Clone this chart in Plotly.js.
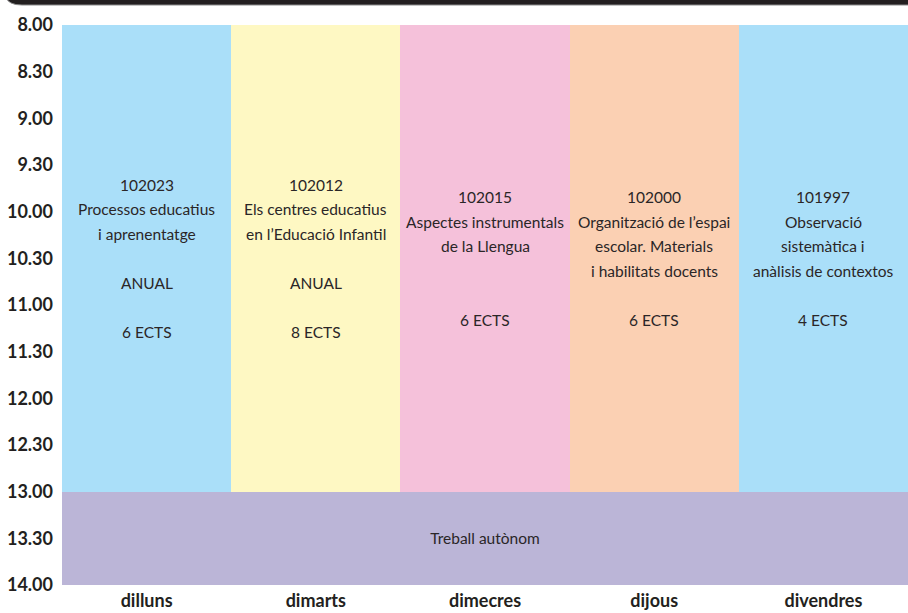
<!DOCTYPE html>
<html>
<head>
<meta charset="utf-8">
<script src="https://cdn.plot.ly/plotly-3.0.1.min.js"></script>
<style>html,body{margin:0;padding:0;background:#fff;}#chart{width:908px;height:613px;}</style>
</head>
<body>
<div id="chart"></div>
<script>
// ---- data ----
const days = ['dilluns', 'dimarts', 'dimecres', 'dijous', 'divendres'];
const dayPos = [0, 1, 2, 3, 4];
const subjectStart = [8, 8, 8, 8, 8];
const subjectEnd = [13, 13, 13, 13, 13];
const subjectCodes = ['102023', '102012', '102015', '102000', '101997'];
const subjectNames = [
  ['Processos educatius', 'i aprenentatge'],
  ['Els centres educatius', 'en l’Educació Infantil'],
  ['Aspectes instrumentals', 'de la Llengua'],
  ['Organització de l’espai', 'escolar. Materials', 'i habilitats docents'],
  ['Observació', 'sistemàtica i', 'anàlisis de contextos']
];
const subjectDuration = ['ANUAL', 'ANUAL', '', '', ''];
const subjectEcts = [6, 8, 6, 6, 4];
const subjectColors = ['#aadff9', '#fef8c3', '#f5c1da', '#fbd0b3', '#aadff9'];

const autoLabel = 'Treball autònom';
const autoStart = 13;
const autoEnd = 14;

const timeVals = [8, 8.5, 9, 9.5, 10, 10.5, 11, 11.5, 12, 12.5, 13, 13.5, 14];
const timeLabels = ['8.00', '8.30', '9.00', '9.30', '10.00', '10.30', '11.00', '11.30', '12.00', '12.30', '13.00', '13.30', '14.00'];

// ---- build ----
const W = 908, H = 613, mL = 62, mR = 0, mT = 25, mB = 28;
const bodyFont = 'Lato, Roboto, sans-serif';
const txtColor = '#2a2627';
const lineStep = 24.5;

const subjects = {
  type: 'bar',
  x: dayPos,
  base: subjectStart,
  y: subjectEnd.map((e, i) => e - subjectStart[i]),
  width: dayPos.map(() => 1),
  marker: {color: subjectColors, line: {width: 0}},
  hoverinfo: 'skip',
  showlegend: false
};

const autonomous = {
  type: 'bar',
  x: [(dayPos[0] + dayPos[dayPos.length - 1]) / 2],
  base: [autoStart],
  y: [autoEnd - autoStart],
  width: [dayPos.length],
  marker: {color: '#bbb5d7', line: {width: 0}},
  text: [autoLabel],
  textposition: 'inside',
  insidetextanchor: 'middle',
  textangle: 0,
  constraintext: 'none',
  textfont: {family: bodyFont, size: 15.5, color: txtColor},
  hoverinfo: 'skip',
  showlegend: false
};

// subject text, one annotation per line, centred in each block
const annotations = [];
dayPos.forEach((xp, i) => {
  const lines = [subjectCodes[i]].concat(subjectNames[i]);
  while (lines.length < 4) lines.push('');
  if (subjectDuration[i]) lines.push(subjectDuration[i]);
  lines.push('');
  lines.push(subjectEcts[i] + ' ECTS');
  const n = lines.length;
  const mid = (subjectStart[i] + subjectEnd[i]) / 2;
  lines.forEach((t, k) => {
    if (!t) return;
    annotations.push({
      x: xp, y: mid, xref: 'x', yref: 'y',
      text: t, showarrow: false,
      xanchor: 'center', yanchor: 'middle',
      yshift: ((n - 1) / 2 - k) * lineStep,
      font: {family: bodyFont, size: 15.5, color: txtColor}
    });
  });
});

const pw = W - mL - mR, ph = H - mT - mB;
const X = x => (x - mL) / pw;
const Y = y => 1 - (y - mT) / ph;
const topBar = `M ${X(6)},${Y(-3)} L ${X(912)},${Y(-3)} L ${X(912)},${Y(5)} L ${X(22)},${Y(5)} Q ${X(8)},${Y(5)} ${X(6)},${Y(-3)} Z`;

const layout = {
  width: W, height: H,
  margin: {l: mL, r: mR, t: mT, b: mB, pad: 0},
  paper_bgcolor: '#ffffff',
  plot_bgcolor: '#ffffff',
  barmode: 'overlay',
  bargap: 0,
  showlegend: false,
  xaxis: {
    range: [-0.5, 4.5],
    tickvals: dayPos,
    ticktext: days,
    showgrid: false, zeroline: false, showline: false,
    ticks: '',
    ticklabelstandoff: 3,
    tickfont: {family: bodyFont, size: 18, color: '#231f20', weight: 'bold'},
    fixedrange: true
  },
  yaxis: {
    range: [14, 8],
    tickvals: timeVals,
    ticktext: timeLabels,
    showgrid: false, zeroline: false, showline: false,
    ticks: '',
    ticklabelstandoff: 8,
    tickfont: {family: bodyFont, size: 18, color: '#231f20', weight: 'bold'},
    fixedrange: true
  },
  annotations: annotations,
  shapes: [{
    type: 'path', xref: 'paper', yref: 'paper', path: topBar,
    fillcolor: '#231f20', line: {color: '#8a8a8a', width: 1}, layer: 'above'
  }]
};

Plotly.newPlot('chart', [subjects, autonomous], layout, {displayModeBar: false, staticPlot: true});
</script>
</body>
</html>
